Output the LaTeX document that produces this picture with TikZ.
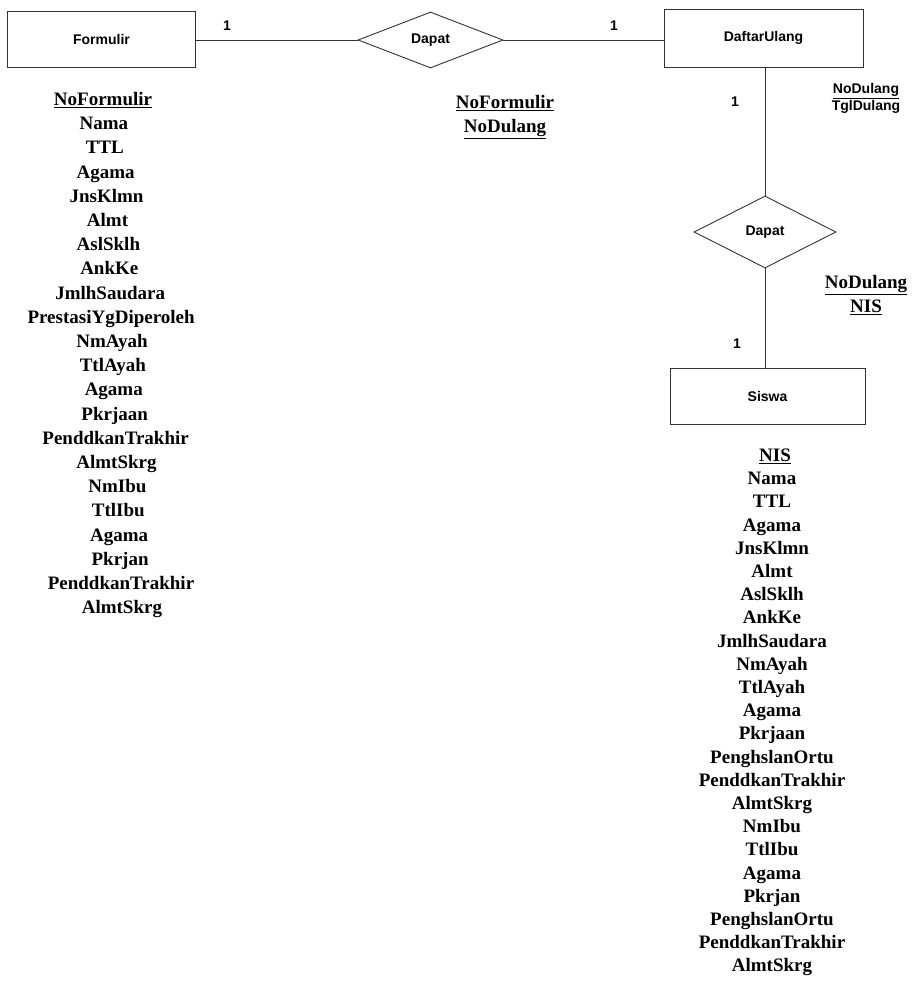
\documentclass[tikz,border=0pt]{standalone}
\usepackage{fontspec}
\setmainfont{Liberation Serif}
\newfontfamily\lsans{Liberation Sans}
\usetikzlibrary{shapes.geometric}
\begin{document}
\begin{tikzpicture}[x=1pt,y=-1pt,
 lc/.style={draw=black!80, line width=0.9pt},
 entity/.style={lc, rectangle, inner sep=0pt, font=\lsans\bfseries\fontsize{14}{16}\selectfont},
 rel/.style={lc, diamond, inner sep=0pt, font=\lsans\bfseries\fontsize{14}{16}\selectfont},
 card/.style={font=\lsans\bfseries\fontsize{14}{16}\selectfont, inner sep=0pt},
 attr/.style={font=\bfseries\fontsize{19}{22}\selectfont, inner sep=0pt, text height=13pt, text depth=4pt},
 sattr/.style={font=\lsans\bfseries\fontsize{14}{16}\selectfont, inner sep=0pt, text height=10pt, text depth=3pt}]
\useasboundingbox[fill=white] (0,0) rectangle (913,983);

% entities and relationships
\node[entity, minimum width=188pt, minimum height=56pt] (formulir) at (101.5,39) {Formulir};
\node[rel, minimum width=145pt, minimum height=56pt] (dapat1) at (430.5,40) {Dapat};
\node[entity, minimum width=199pt, minimum height=58pt] (daftar) at (763.5,38) {DaftarUlang};
\node[rel, minimum width=142pt, minimum height=72pt] (dapat2) at (765,232) {Dapat};
\node[entity, minimum width=195pt, minimum height=56pt] (siswa) at (767.5,396) {Siswa};

% connectors
\draw[lc] (formulir.east |- dapat1.west) -- (dapat1.west);
\draw[lc] (dapat1.east) -- (daftar.west |- dapat1.east);
\draw[lc] (dapat2.north |- daftar.south) -- (dapat2.north);
\draw[lc] (dapat2.south) -- (dapat2.south |- siswa.north);

% cardinalities
\node[card] (c1) at (227,26) {1};
\node[card] (c2) at (614,26) {1};
\node[card] (c3) at (735,102) {1};
\node[card] (c4) at (737,344) {1};

% relationship attributes
\node[attr] (r1a) at (505,104) {\underline{NoFormulir}};
\node[attr] (r1b) at (505,128) {\underline{NoDulang}};
\node[attr] (r2a) at (866,284) {\underline{NoDulang}};
\node[attr] (r2b) at (866,308) {\underline{NIS}};

% DaftarUlang attributes
\node[sattr] (d1) at (866,90) {\underline{NoDulang}};
\node[sattr] (d2) at (866,107) {TglDulang};

% Formulir attributes
\node[attr] (f0) at (103,101) {\underline{NoFormulir}};
\foreach \t [count=\i] in {Nama,TTL,Agama,JnsKlmn,Almt,AslSklh,AnkKe,JmlhSaudara,PrestasiYgDiperoleh,NmAyah,TtlAyah,Agama,Pkrjaan,PenddkanTrakhir,AlmtSkrg,NmIbu,TtlIbu,Agama,Pkrjan,PenddkanTrakhir,AlmtSkrg}
  \node[attr] (f\i) at ({103+0.9*\i},{101+24.2*\i}) {\t};

% Siswa attributes
\node[attr] (s0) at (775,457) {\underline{NIS}};
\foreach \t [count=\i] in {Nama,TTL,Agama,JnsKlmn,Almt,AslSklh,AnkKe,JmlhSaudara,NmAyah,TtlAyah,Agama,Pkrjaan,PenghslanOrtu,PenddkanTrakhir,AlmtSkrg,NmIbu,TtlIbu,Agama,Pkrjan,PenghslanOrtu,PenddkanTrakhir,AlmtSkrg}
  \node[attr] (s\i) at (772,{457+23.2*\i}) {\t};
\end{tikzpicture}
\end{document}
